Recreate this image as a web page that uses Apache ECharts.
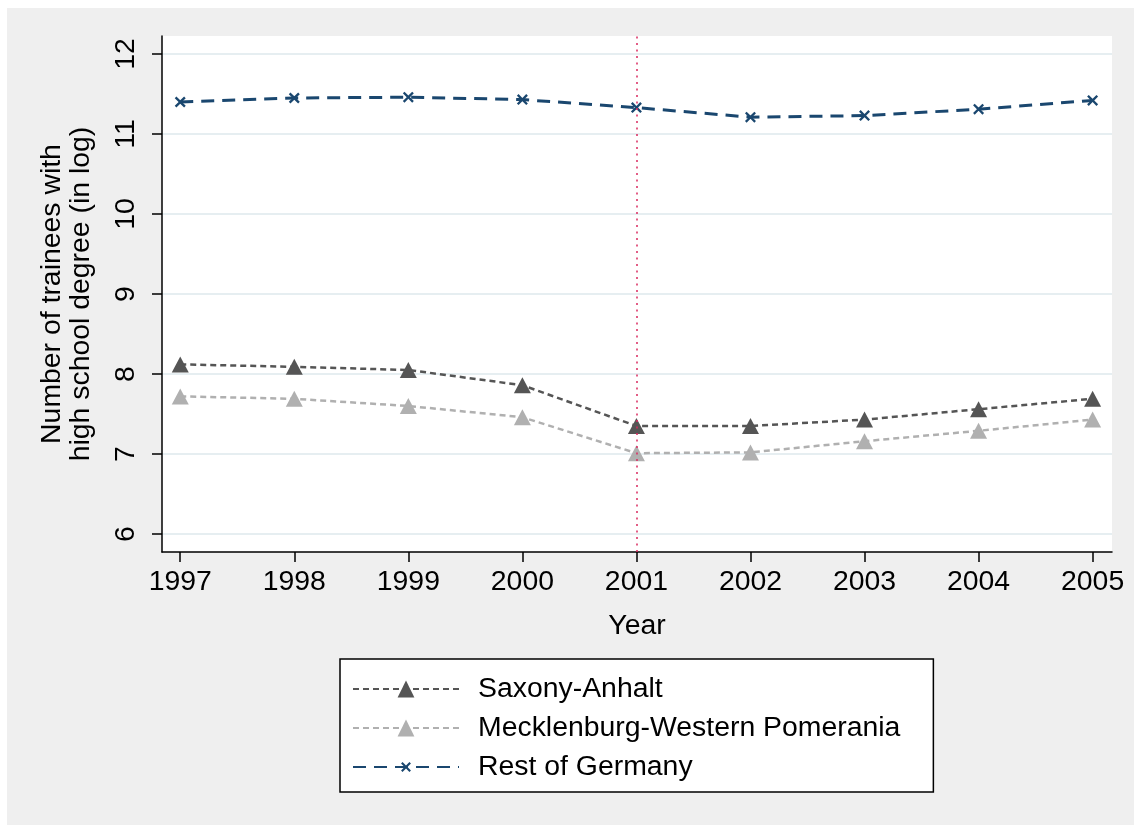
<!DOCTYPE html>
<html>
<head>
<meta charset="utf-8">
<script src="https://cdn.jsdelivr.net/npm/echarts@6/dist/echarts.min.js"></script>
<style>
  html, body { margin: 0; padding: 0; background: #ffffff; }
  #chart_main {
    position: absolute;
    left: 7px;
    top: 8px;
    width: 1127px;
    height: 817px;
  }
</style>
</head>
<body>
<div id="chart_main"></div>
<script>
// data
var years = [1997, 1998, 1999, 2000, 2001, 2002, 2003, 2004, 2005];
var saxonyAnhalt = [8.12, 8.09, 8.05, 7.86, 7.35, 7.35, 7.43, 7.56, 7.69];
var mecklenburg = [7.72, 7.69, 7.60, 7.46, 7.01, 7.02, 7.16, 7.29, 7.43];
var restOfGermany = [11.40, 11.45, 11.46, 11.43, 11.33, 11.21, 11.23, 11.31, 11.42];
var yTicks = [6, 7, 8, 9, 10, 11, 12];
var reformYear = 2001;

var FONT = 'Liberation Sans';

function pairs(vals) {
  return years.map(function (y, i) { return [y, vals[i]]; });
}

// stata style "x" marker, padded box so the legend icon stays small
var xMarker = 'path://M-3.5,-3.5 M13.5,13.5 M1.5,0 L5,3.5 L8.5,0 L10,1.5 L6.5,5 L10,8.5 L8.5,10 L5,6.5 L1.5,10 L0,8.5 L3.5,5 L0,1.5 Z';

var myChart = echarts.init(document.getElementById('chart_main'));

var option = {
  backgroundColor: '#efefef',
  animation: false,
  textStyle: { fontFamily: FONT },
  grid: {
    left: 155,
    right: 22,
    top: 28,
    bottom: 273,
    show: true,
    backgroundColor: '#ffffff',
    borderWidth: 0
  },
  legend: {
    orient: 'vertical',
    left: 333,
    top: 651,
    backgroundColor: '#ffffff',
    borderColor: '#000000',
    borderWidth: 1.5,
    borderRadius: 0,
    padding: [15, 33, 10, 12],
    itemWidth: 106,
    itemHeight: 21,
    itemGap: 9,
    textStyle: {
      fontFamily: FONT,
      fontSize: 28.4,
      color: '#000',
      lineHeight: 30,
      padding: [0, 0, 0, 14]
    },
    data: ['Saxony-Anhalt', 'Mecklenburg-Western Pomerania', 'Rest of Germany']
  },
  xAxis: {
    type: 'value',
    min: 1996.84,
    max: 2005.17,
    name: 'Year',
    nameLocation: 'middle',
    nameGap: 60,
    nameTextStyle: { fontFamily: FONT, fontSize: 28.4, color: '#000' },
    axisLine: { show: true, onZero: false, lineStyle: { color: '#000', width: 1.5 } },
    axisTick: { show: true, length: 10, customValues: years, lineStyle: { color: '#000', width: 1.5 } },
    axisLabel: {
      customValues: years,
      margin: 16,
      fontFamily: FONT,
      fontSize: 28.4,
      color: '#000',
      formatter: function (v) { return String(v); }
    },
    splitLine: { show: false }
  },
  yAxis: {
    type: 'value',
    min: 5.775,
    max: 12.225,
    name: 'Number of trainees with\nhigh school degree (in log)',
    nameLocation: 'middle',
    nameRotate: 90,
    nameGap: 66,
    nameTextStyle: { fontFamily: FONT, fontSize: 28.4, color: '#000', lineHeight: 29 },
    axisLine: { show: true, lineStyle: { color: '#000', width: 1.5 } },
    axisTick: { show: true, length: 10, customValues: yTicks, lineStyle: { color: '#000', width: 1.5 } },
    axisLabel: {
      customValues: yTicks,
      rotate: 90,
      margin: 22,
      fontFamily: FONT,
      fontSize: 28.4,
      color: '#000'
    },
    splitLine: { show: true, lineStyle: { color: '#e6eef1', width: 2 } }
  },
  series: [
    {
      name: 'Saxony-Anhalt',
      type: 'line',
      data: pairs(saxonyAnhalt),
      symbol: 'triangle',
      symbolSize: [17, 16],
      itemStyle: { color: '#555555' },
      lineStyle: { color: '#555555', width: 2.5, type: [6, 4] },
      markLine: {
        silent: true,
        symbol: 'none',
        label: { show: false },
        lineStyle: { color: '#d9285f', width: 1.5, type: [2, 4.5] },
        data: [{ xAxis: reformYear }]
      },
      z: 3
    },
    {
      name: 'Mecklenburg-Western Pomerania',
      type: 'line',
      data: pairs(mecklenburg),
      symbol: 'triangle',
      symbolSize: [17, 16],
      itemStyle: { color: '#b0b0b0' },
      lineStyle: { color: '#b0b0b0', width: 2.5, type: [6, 4] },
      z: 2
    },
    {
      name: 'Rest of Germany',
      type: 'line',
      data: pairs(restOfGermany),
      symbol: xMarker,
      symbolSize: 18.7,
      itemStyle: { color: '#1a476f' },
      lineStyle: { color: '#1a476f', width: 3, type: [13, 8] },
      z: 2
    }
  ]
};

myChart.setOption(option);
window.addEventListener('resize', function () { myChart.resize(); });
</script>
</body>
</html>
